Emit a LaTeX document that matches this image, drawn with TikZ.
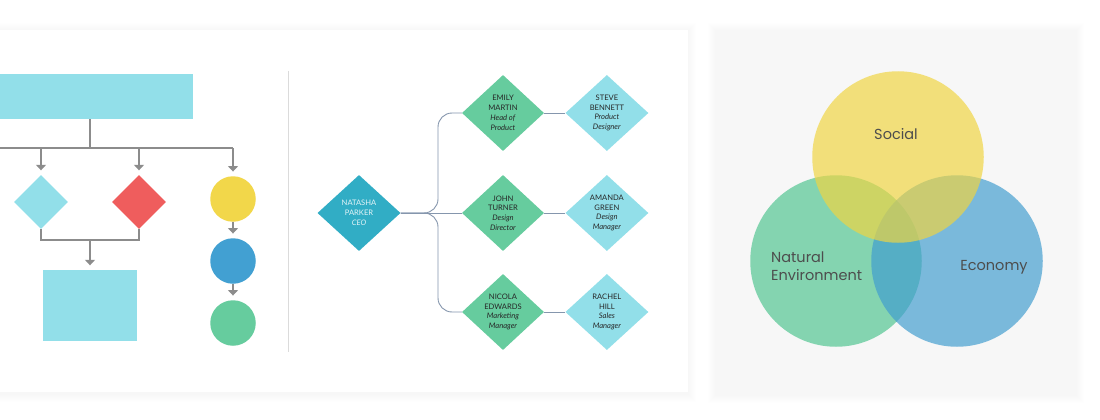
\documentclass[tikz,border=0pt]{standalone}
\usepackage{fontspec}
\setmainfont{Lato}
\newfontfamily\vennfont{Poppins}
\usepackage{xcolor}
\usetikzlibrary{shapes.geometric, arrows.meta, positioning}

\definecolor{skyfill}{HTML}{92DFE9}
\definecolor{redfill}{HTML}{EF5D5D}
\definecolor{yellowfill}{HTML}{F2D74A}
\definecolor{bluefill}{HTML}{42A0D2}
\definecolor{greenfill}{HTML}{66CC9E}
\definecolor{ceofill}{HTML}{31ADC5}
\definecolor{linegray}{HTML}{8C8C8C}
\definecolor{orgline}{HTML}{8596AD}
\definecolor{cardgray}{HTML}{F7F7F7}
\definecolor{vennyellow}{RGB}{240,213,64}
\definecolor{venngreen}{RGB}{78,196,143}
\definecolor{vennblue}{RGB}{64,156,207}
\definecolor{vtext}{HTML}{4D4D4D}

\begin{document}
\begin{tikzpicture}[x=1pt, y=-1pt,
    flowline/.style={draw=linegray, line width=1.2pt},
    flowarrow/.style={flowline, -{Triangle[width=10pt,length=5.5pt]}, shorten >=4.5pt},
    box/.style={rectangle, fill=skyfill, inner sep=0pt},
    dia/.style={diamond, inner sep=0pt, minimum width=54pt, minimum height=54pt},
    dot/.style={circle, inner sep=0pt, minimum size=45.5pt},
    person/.style={diamond, inner sep=0pt, minimum width=83pt, minimum height=76pt},
    who/.style={align=center, font=\fontsize{7.6}{9.8}\selectfont},
    link/.style={draw=orgline, line width=0.9pt},
    venn/.style={circle, inner sep=0pt, minimum size=171.5pt, fill opacity=0.68},
    vlabel/.style={text=vtext, font=\vennfont\fontsize{14.5}{17.5}\selectfont},
    node distance=21pt]

  \useasboundingbox (0,0) rectangle (1100,420);

  % cards
  \foreach \k in {1,...,8}
    \fill[black, opacity=0.005] (-10-\k,30-\k+1.5) rectangle (688+\k,392+\k+1.5);
  \fill[white] (-10,30) rectangle (688,392);
  \foreach \k in {1,...,8}
    \fill[black, opacity=0.005] (716-\k,30-\k+1.5) rectangle (1076+\k,393+\k+1.5);
  \fill[cardgray] (716,30) rectangle (1076,393);

  % flowchart
  \node[box, minimum width=206pt, minimum height=45pt] (start) at (90,96.5) {};
  \node[dia, fill=skyfill] (qa) at (41,202) {};
  \node[dia, fill=redfill] (qb) at (139,202) {};
  \node[dot, fill=yellowfill] (d1) at (233,199) {};
  \node[dot, fill=bluefill] (d2) at (233,261) {};
  \node[dot, fill=greenfill] (d3) at (233,323) {};
  \node[box, minimum width=94pt, minimum height=71pt] (result) at (90,305.5) {};

  \coordinate (split) at (90,148);
  \coordinate (busL) at (0,148);
  \coordinate (join) at (90,240);

  \draw[flowline] (start.south) -- (split);
  \draw[flowline] (busL) -- (d1 |- split);
  \draw[flowarrow] (qa |- split) -- (qa.north);
  \draw[flowarrow] (qb |- split) -- (qb.north);
  \draw[flowarrow] (d1 |- split) -- (d1.north);
  \draw[flowarrow] (d1.south) -- (d2.north);
  \draw[flowarrow] (d2.south) -- (d3.north);
  \draw[flowline] (qa.south) -- (qa |- join) -- (qb |- join) -- (qb.south);
  \draw[flowarrow] (join) -- (result.north);

  % divider
  \draw[draw=black!14, line width=1pt] (288,71) -- (288,352);

  % org chart
  \node[person, fill=ceofill, label={[who, text=white!88!ceofill]center:NATASHA\\PARKER\\\textit{CEO}}] (ceo) at (359,213) {};
  \node[person, fill=greenfill, minimum width=82pt, label={[who, text=black!85]center:EMILY\\MARTIN\\\textit{Head of}\\\textit{Product}}] (emily) at (503,113) {};
  \node[person, fill=greenfill, minimum width=82pt, label={[who, text=black!85]center:JOHN\\TURNER\\\textit{Design}\\\textit{Director}}] (john) at (503,213) {};
  \node[person, fill=greenfill, minimum width=82pt, label={[who, text=black!85]center:NICOLA\\EDWARDS\\\textit{Marketing}\\\textit{Manager}}] (nicola) at (503,312) {};
  \node[person, fill=skyfill, right=of emily, label={[who, text=black!85]center:STEVE\\BENNETT\\\textit{Product}\\\textit{Designer}}] (steve) {};
  \node[person, fill=skyfill, right=of john, label={[who, text=black!85]center:AMANDA\\GREEN\\\textit{Design}\\\textit{Manager}}] (amanda) {};
  \node[person, fill=skyfill, right=of nicola, label={[who, text=black!85]center:RACHEL\\HILL\\\textit{Sales}\\\textit{Manager}}] (rachel) {};

  \coordinate (fork) at (438,213);
  \draw[link, rounded corners=14pt] (ceo.east) -- (fork) |- (emily.west);
  \draw[link, rounded corners=14pt] (ceo.east) -- (fork) |- (nicola.west);
  \draw[link] (ceo.east) -- (john.west);
  \path[link] (emily) edge (steve)
              (john) edge (amanda)
              (nicola) edge (rachel);

  % venn
  \node[venn, fill=venngreen] (nature) at (836,261) {};
  \node[venn, fill=vennblue] (economy) at (957,261) {};
  \node[venn, fill=vennyellow] (social) at (898,157) {};

  \node[vlabel] (tsocial) at (896,134) {Social};
  \node[vlabel, align=left, anchor=west, inner sep=0pt] (tnature) at (771,266) {Natural\\Environment};
  \node[vlabel] (teconomy) at (994,267) {Economy};
\end{tikzpicture}
\end{document}
